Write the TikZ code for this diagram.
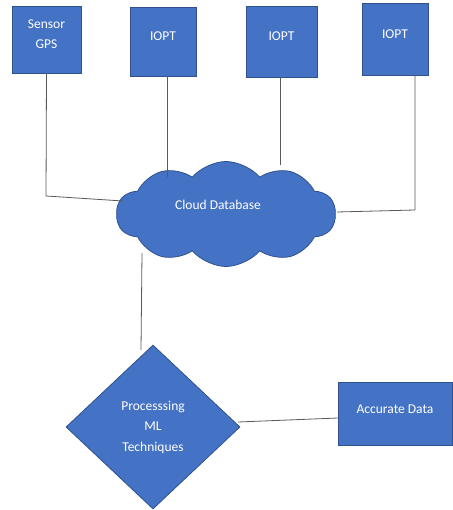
\documentclass[tikz,border=0pt]{standalone}
\usepackage{fontspec}
\setmainfont{Carlito}
\usetikzlibrary{shapes.geometric,shapes.symbols}
\definecolor{ofblue}{HTML}{4472C4}
\definecolor{ofedge}{HTML}{2F528F}
\definecolor{lnk}{HTML}{595959}
\begin{document}
\begin{tikzpicture}[x=1pt,y=-1pt,
  lbl/.style={text=white, font=\fontsize{13.5}{20.5}\selectfont, align=center, inner sep=0pt},
  box/.style={lbl, draw=ofedge, line width=0.8pt, fill=ofblue},
  link/.style={draw=lnk, line width=0.8pt}]
\useasboundingbox (0,0) rectangle (452,510);
% top boxes
\node[box, minimum width=69pt, minimum height=67pt, text depth=11pt] (sensor) at (46.5,39.5) {Sensor\\GPS};
\node[box, minimum width=66pt, minimum height=69pt, text depth=11pt] (iopt1) at (163,41.5) {IOPT};
\node[box, minimum width=71pt, minimum height=71pt, text depth=11pt] (iopt2) at (281.5,41.5) {IOPT};
\node[box, minimum width=66pt, minimum height=72pt, text depth=11pt] (iopt3) at (395,39.5) {IOPT};
% cloud
\node[cloud, cloud puffs=10, cloud puff arc=100, aspect=2.1, draw=ofedge, line width=0.8pt, fill=ofblue,
      minimum width=219pt, minimum height=105pt, inner sep=0pt] (cloud) at (226,214) {};
\node[lbl] (cloudtxt) at (218,205) {Cloud Database};
% diamond
\node[box, diamond, aspect=1.06, minimum width=174pt, minimum height=164pt] (proc) at (153,427) {Processsing\\ML\\Techniques};
% accurate data
\node[box, minimum width=114pt, minimum height=63pt, text depth=9pt] (acc) at (395,413.5) {Accurate Data};
% connector points
\coordinate (sbend) at (46,196);
\coordinate (sin) at (123,201);
\coordinate (c1) at (167,177);
\coordinate (c2) at (280,165);
\coordinate (c3bend) at (415,210);
\coordinate (c3in) at (337,212);
\coordinate (cbot) at (142,253);
\coordinate (dtop) at (141,350);
\coordinate (de) at (238,422);
\coordinate (aw) at (338,418);
% connectors
\draw[link] (sensor.south) -- (sbend) -- (sin);
\draw[link] (iopt1.south -| c1) -- (c1);
\draw[link] (iopt2.south -| c2) -- (c2);
\draw[link] (iopt3.south -| c3bend) -- (c3bend) -- (c3in);
\draw[link] (cbot) -- (dtop);
\draw[link] (de) -- (aw);
\end{tikzpicture}
\end{document}
